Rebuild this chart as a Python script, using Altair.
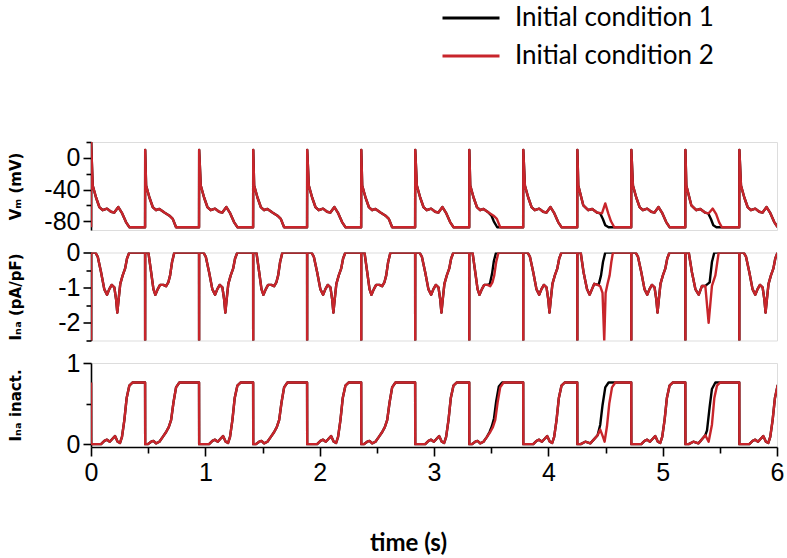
import altair as alt
import pandas as pd

# ---------------- data ----------------
CONDITIONS = ["Initial condition 1", "Initial condition 2"]
COLORS = ["#000000", "#c8252b"]

# onset time (s) of every beat
BEAT_ONSETS = [0, 0.473, 0.945, 1.418, 1.89, 2.363, 2.835, 3.308, 3.78, 4.253, 4.725, 5.198, 5.67]
# waveform variant drawn at each beat, per condition
BEATS_COND1 = ["A0", "B", "A", "B", "A", "B", "A", "B7", "A", "C9k", "A", "C11k", "A"]
BEATS_COND2 = ["A0", "B", "A", "B", "A", "B", "A", "B", "A", "C9r", "A", "C11r", "A"]

# --- membrane potential (mV): (time after onset in s, value)
VM_A_T = [0, 0.001, 0.015, 0.044, 0.073, 0.102, 0.14, 0.175, 0.204, 0.239, 0.269, 0.306, 0.335]
VM_A_V = [-87.5, 10, -35, -50, -62, -66, -64, -68, -69, -62, -69, -81, -87.5]
VM_A0_V = [-87.5, 20, -35, -50, -62, -66, -64, -68, -69, -62, -69, -81, -87.5]
VM_B_T = [0, 0.001, 0.009, 0.038, 0.067, 0.096, 0.125, 0.169, 0.213, 0.242, 0.271]
VM_B_V = [-87.5, 10, -35, -50, -62, -66, -64.5, -69, -73, -77, -87.5]
VM_B7_T = [0, 0.001, 0.009, 0.038, 0.067, 0.096, 0.125, 0.169, 0.195, 0.215, 0.245]
VM_B7_V = [-87.5, 10, -35, -50, -62, -66, -64.5, -69, -73, -80, -87.5]
VM_C9R_T = [0, 0.001, 0.009, 0.053, 0.096, 0.131, 0.172, 0.216, 0.245, 0.271, 0.295, 0.324]
VM_C9R_V = [-87.5, 10, -35, -60, -66, -64.5, -69, -70, -57.5, -70, -80, -87.5]
VM_C9K_T = [0, 0.001, 0.009, 0.053, 0.096, 0.131, 0.172, 0.2, 0.225, 0.245, 0.274]
VM_C9K_V = [-87.5, 10, -35, -60, -66, -64.5, -69, -70, -77.5, -85, -87.5]
VM_C11R_T = [0, 0.001, 0.009, 0.053, 0.096, 0.131, 0.172, 0.205, 0.24, 0.27, 0.295, 0.32]
VM_C11R_V = [-87.5, 10, -35, -60, -66, -64.5, -69, -70, -64, -71, -81, -87.5]
VM_C11K_T = [0, 0.001, 0.009, 0.053, 0.096, 0.131, 0.172, 0.2, 0.225, 0.245, 0.272]
VM_C11K_V = [-87.5, 10, -35, -60, -66, -64.5, -69, -70, -77.5, -85, -87.5]

# --- I_Na (pA/pF)
INA_A_T = [0, 0.0005, 0.001, 0.038, 0.059, 0.088, 0.116, 0.14, 0.16, 0.181, 0.204, 0.219,
           0.23, 0.242, 0.256, 0.277, 0.298, 0.315, 0.335]
INA_A_V = [0, -2.5, 0, 0, -0.12, -0.56, -1.04, -1.2, -1.04, -0.92, -0.99, -1.32,
           -1.71, -1.32, -0.89, -0.65, -0.46, -0.17, 0]
INA_B_T = [0, 0.0005, 0.001, 0.029, 0.053, 0.073, 0.09, 0.111, 0.131, 0.16, 0.184, 0.204, 0.219, 0.236, 0.256]
INA_B_V = [0, -2.5, 0, 0, -0.56, -1.04, -1.2, -1.04, -0.92, -0.92, -0.96, -0.84, -0.65, -0.27, 0]
INA_B7_T = [0, 0.0005, 0.001, 0.029, 0.053, 0.073, 0.09, 0.111, 0.131, 0.16, 0.18, 0.2, 0.215, 0.235]
INA_B7_V = [0, -2.5, 0, 0, -0.56, -1.04, -1.2, -1.04, -0.92, -0.92, -0.9, -0.6, -0.25, 0]
INA_C9R_T = [0, 0.0005, 0.001, 0.03, 0.055, 0.085, 0.108, 0.129, 0.149, 0.178, 0.201, 0.221,
             0.236, 0.248, 0.265, 0.283, 0.298, 0.312]
INA_C9R_V = [0, -2.5, 0, 0, -0.56, -1.04, -1.2, -1.04, -0.89, -0.92, -0.96, -1.15,
             -2.5, -1.15, -0.89, -0.65, -0.27, 0]
INA_C9K_T = [0, 0.0005, 0.001, 0.03, 0.055, 0.085, 0.108, 0.129, 0.149, 0.187, 0.208, 0.225, 0.245]
INA_C9K_V = [0, -2.5, 0, 0, -0.56, -1.04, -1.2, -1.04, -0.89, -0.92, -0.65, -0.27, 0]
INA_C11R_T = [0, 0.0005, 0.001, 0.03, 0.058, 0.088, 0.117, 0.146, 0.175, 0.204, 0.233, 0.263, 0.292]
INA_C11R_V = [0, -2.5, 0, 0, -0.56, -1.04, -1.2, -0.95, -0.95, -2.0, -0.95, -0.65, 0]
INA_C11K_T = [0, 0.0005, 0.001, 0.03, 0.058, 0.088, 0.117, 0.146, 0.175, 0.213, 0.233, 0.254]
INA_C11K_V = [0, -2.5, 0, 0, -0.56, -1.04, -1.2, -0.95, -0.95, -0.85, -0.27, 0]

# --- I_Na inactivation gate
INACT_A_T = [0, 0.001, 0.029, 0.088, 0.117, 0.14, 0.164, 0.19, 0.21, 0.233, 0.254, 0.271, 0.292, 0.312, 0.335, 0.365]
INACT_A_V = [0.76, 0, 0, 0, 0.04, 0.055, 0.03, 0.07, 0.1, 0.03, 0.015, 0.09, 0.3, 0.57, 0.72, 0.76]
INACT_B_T = [0, 0.001, 0.023, 0.053, 0.073, 0.096, 0.125, 0.155, 0.184, 0.207, 0.228, 0.248, 0.271, 0.3]
INACT_B_V = [0.76, 0, 0, 0.03, 0.04, 0.01, 0.03, 0.09, 0.15, 0.21, 0.3, 0.51, 0.7, 0.76]
INACT_B7_T = [0, 0.001, 0.023, 0.053, 0.073, 0.096, 0.125, 0.155, 0.178, 0.198, 0.217, 0.236, 0.259, 0.288]
INACT_B7_V = [0.76, 0, 0, 0.03, 0.04, 0.01, 0.03, 0.09, 0.15, 0.22, 0.32, 0.53, 0.71, 0.76]
INACT_C9R_T = [0, 0.001, 0.03, 0.07, 0.114, 0.14, 0.178, 0.201, 0.225, 0.239, 0.26, 0.28, 0.304, 0.333]
INACT_C9R_V = [0.76, 0, 0, 0.03, 0.01, 0.05, 0.11, 0.18, 0.09, 0.03, 0.22, 0.5, 0.7, 0.76]
INACT_C9K_T = [0, 0.001, 0.03, 0.07, 0.114, 0.14, 0.178, 0.201, 0.221, 0.245, 0.274]
INACT_C9K_V = [0.76, 0, 0, 0.03, 0.01, 0.05, 0.11, 0.24, 0.48, 0.7, 0.76]
INACT_C11R_T = [0, 0.001, 0.03, 0.07, 0.114, 0.14, 0.175, 0.204, 0.233, 0.254, 0.277, 0.306]
INACT_C11R_V = [0.76, 0, 0, 0.03, 0.01, 0.05, 0.11, 0.03, 0.24, 0.57, 0.72, 0.76]
INACT_C11K_T = [0, 0.001, 0.03, 0.07, 0.114, 0.14, 0.175, 0.19, 0.213, 0.233, 0.263]
INACT_C11K_V = [0.76, 0, 0, 0.03, 0.01, 0.05, 0.11, 0.17, 0.46, 0.68, 0.76]

SHAPES = {
    "vm": {"A0": (VM_A_T, VM_A0_V), "A": (VM_A_T, VM_A_V), "B": (VM_B_T, VM_B_V),
           "B7": (VM_B7_T, VM_B7_V), "C9r": (VM_C9R_T, VM_C9R_V), "C9k": (VM_C9K_T, VM_C9K_V),
           "C11r": (VM_C11R_T, VM_C11R_V), "C11k": (VM_C11K_T, VM_C11K_V)},
    "ina": {"A0": (INA_A_T, INA_A_V), "A": (INA_A_T, INA_A_V), "B": (INA_B_T, INA_B_V),
            "B7": (INA_B7_T, INA_B7_V), "C9r": (INA_C9R_T, INA_C9R_V), "C9k": (INA_C9K_T, INA_C9K_V),
            "C11r": (INA_C11R_T, INA_C11R_V), "C11k": (INA_C11K_T, INA_C11K_V)},
    "inact": {"A0": (INACT_A_T, INACT_A_V), "A": (INACT_A_T, INACT_A_V), "B": (INACT_B_T, INACT_B_V),
              "B7": (INACT_B7_T, INACT_B7_V), "C9r": (INACT_C9R_T, INACT_C9R_V),
              "C9k": (INACT_C9K_T, INACT_C9K_V), "C11r": (INACT_C11R_T, INACT_C11R_V),
              "C11k": (INACT_C11K_T, INACT_C11K_V)},
}

rows = []
idx = 0
for cond, beats in zip(CONDITIONS, [BEATS_COND1, BEATS_COND2]):
    for panel in ["vm", "ina", "inact"]:
        for onset, kind in zip(BEAT_ONSETS, beats):
            ts, vs = SHAPES[panel][kind]
            for dt, v in zip(ts, vs):
                rows.append({"t": onset + dt, "v": v, "panel": panel, "cond": cond, "i": idx})
                idx += 1
df = pd.DataFrame(rows)

FONT_NUM = "Liberation Sans"
FONT_TXT = "Lato"
FONT_YT = "DejaVu Sans"

color = alt.Color(
    "cond:N",
    scale=alt.Scale(domain=CONDITIONS, range=COLORS),
    legend=alt.Legend(
        title=None, orient="none", legendX=350, legendY=-142, direction="vertical",
        symbolType="stroke", symbolSize=3249, symbolStrokeWidth=3,
        labelFontSize=26, labelFont=FONT_TXT, labelColor="black", labelOffset=14,
        labelLimit=0, rowPadding=2, clipHeight=36, padding=0,
    ),
)

X_SCALE = alt.Scale(domain=[0, 6], nice=False, zero=False)


def yaxis(title, values, label_test):
    return alt.Axis(
        title=title, values=values,
        labelExpr=f"({label_test}) ? '' + datum.value : ''",
        tickSize={"condition": {"test": label_test, "value": 8}, "value": 5},
        labelFont=FONT_NUM, labelFontSize=25, labelColor="black", labelPadding=3,
        labelOverlap=False, labelFlush=False,
        titleFont=FONT_YT, titleFontSize=15, titleFontWeight="bold", titleColor="black",
        titleX=-76, titleBaseline="middle", titleAngle=270,
        domainColor="black", domainWidth=1.6, tickColor="black", tickWidth=1.6, grid=False,
    )


def panel_chart(name, ydomain, axis, height, xaxis):
    src = alt.Chart(df).transform_filter(alt.datum.panel == name)
    layers = []
    for c in CONDITIONS:
        layers.append(
            src.transform_filter(alt.datum.cond == c)
            .mark_line(strokeWidth=2.4, clip=True, strokeJoin="round")
            .encode(
                x=alt.X("t:Q", scale=X_SCALE, axis=xaxis, title="time (s)"),
                y=alt.Y("v:Q", scale=alt.Scale(domain=ydomain, nice=False, zero=False), axis=axis),
                color=color,
                order=alt.Order("i:Q"),
            )
        )
    return alt.layer(*layers).properties(width=686, height=height)


xaxis_bottom = alt.Axis(
    values=[0, 0.5, 1, 1.5, 2, 2.5, 3, 3.5, 4, 4.5, 5, 5.5, 6],
    labelExpr="datum.value % 1 === 0 ? '' + datum.value : ''",
    tickSize={"condition": {"test": "datum.value % 1 === 0", "value": 9}, "value": 6},
    labelFont=FONT_NUM, labelFontSize=25, labelColor="black", labelPadding=4,
    labelOverlap=False, labelFlush=False,
    titleFont=FONT_TXT, titleFontSize=24, titleFontWeight="bold", titleColor="black",
    titleX=317, titleY=84,
    domainColor="black", domainWidth=1.6, tickColor="black", tickWidth=1.6, grid=False,
)

p1 = panel_chart("vm", [-91, 20],
                 yaxis("Vₘ (mV)", [20, 0, -20, -40, -60, -80], "datum.value % 40 === 0"),
                 88, None)
p2 = panel_chart("ina", [-2.5, 0],
                 yaxis("Iₙₐ (pA/pF)", [0, -0.5, -1, -1.5, -2, -2.5], "datum.value % 1 === 0"),
                 88, None)
p3 = panel_chart("inact", [-0.035, 1],
                 yaxis("Iₙₐ inact.", [0, 0.5, 1], "datum.value % 1 === 0"),
                 84, xaxis_bottom)

chart = (
    alt.vconcat(p1, p2, p3, spacing=22.5, bounds="flush")
    .properties(padding={"left": 7, "top": 0, "right": 2, "bottom": 2})
    .configure_view(stroke=None)
    .configure(background="white")
)

chart.save("out.html", embed_options={"renderer": "svg", "actions": False})
